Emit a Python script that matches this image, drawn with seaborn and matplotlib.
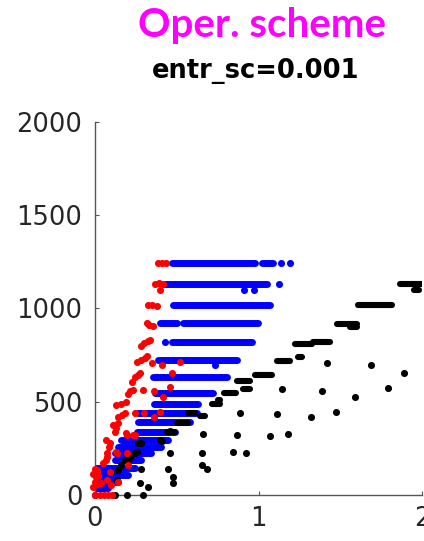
import matplotlib
matplotlib.use('Agg')

import seaborn as sns
import matplotlib.pyplot as plt

# blue series: dense horizontal bands (y level, first x, last x) plus loose points
blue_band_y = [1244, 1244, 1130, 1018, 921, 921, 821, 723, 634, 545, 487, 439, 393, 339,
               295, 257, 225, 187, 145, 107, 70, 37]
blue_band_x0 = [0.47, 1.02, 0.43, 0.476, 0.397, 0.538, 0.47, 0.385, 0.354, 0.367, 0.36, 0.263,
                0.263, 0.257, 0.159, 0.14, 0.122, 0.122, 0.006, 0.006, 0.006, 0.0]
blue_band_x1 = [0.977, 1.087, 1.051, 1.069, 0.501, 0.996, 0.959, 0.867, 0.806, 0.721, 0.629,
                0.623, 0.58, 0.489, 0.446, 0.403, 0.342, 0.281, 0.244, 0.202, 0.14, 0.079]
blue_pts_x = [1.136, 1.191, 1.124, 0.91, 0.971, 0.428, 0.733, 0.0]
blue_pts_y = [1244, 1244, 1130, 1098, 1098, 821, 696, 0]

# black series: step plateaus plus scattered points
black_step_y = [1130, 1098, 1018, 918, 900, 820, 809, 739, 720, 643, 612, 568, 546, 509, 487,
                425, 439, 386, 339]
black_step_x0 = [1.863, 1.95, 1.607, 1.478, 1.56, 1.332, 1.222, 1.24, 1.112, 0.977, 0.867,
                 0.904, 0.79, 0.752, 0.715, 0.641, 0.568, 0.5, 0.44]
black_step_x1 = [2.02, 1.98, 1.814, 1.6, 1.6, 1.436, 1.326, 1.265, 1.19, 1.081, 0.947, 0.947,
                 0.861, 0.764, 0.764, 0.672, 0.611, 0.568, 0.489]
black_x = [1.415, 1.684, 1.888, 1.14, 1.385, 1.588, 1.788, 0.886, 1.114, 1.318, 1.47, 0.662,
           0.866, 1.069, 1.181, 0.652, 0.845, 0.921, 0.652, 0.686, 0.458, 0.279, 0.448, 0.275,
           0.326, 0.475, 0.475, 0.122, 0.197, 0.291,
           0.098, 0.134, 0.14, 0.159, 0.183, 0.202, 0.214, 0.244, 0.257, 0.263, 0.28, 0.397,
           0.41, 0.458]
black_y = [705, 698, 652, 566, 559, 527, 573, 438, 434, 416, 443, 325, 320, 318, 327, 223, 232,
           227, 161, 139, 227, 138, 138, 63, 44, 98, 66, 0, 0, 0,
           123, 80, 134, 161, 187, 187, 204, 225, 230, 279, 279, 295, 290, 343]

# red series
red_x = [0.385, 0.41, 0.434, 0.367, 0.39, 0.415, 0.397, 0.324, 0.35, 0.38, 0.318, 0.33, 0.355,
         0.28, 0.3, 0.325, 0.336, 0.257, 0.28, 0.305, 0.318, 0.348, 0.409, 0.519,
         0.244, 0.26, 0.275, 0.226, 0.47, 0.2, 0.215, 0.235, 0.293, 0.36, 0.415, 0.458,
         0.13, 0.16, 0.19, 0.14, 0.165, 0.183, 0.244, 0.3, 0.397, 0.36,
         0.122, 0.13, 0.14, 0.195, 0.244, 0.11, 0.19, 0.232,
         0.075, 0.085, 0.09, 0.134, 0.195, 0.05, 0.065, 0.075, 0.067,
         -0.015, 0.0, 0.005, 0.01, 0.0, 0.015, 0.02, -0.01, 0.015,
         0.092, 0.073, 0.14, 0.098, 0.037, 0.128, 0.202,
         0.0, 0.031, 0.055, 0.08, 0.104]
red_y = [1244, 1244, 1244, 1130, 1135, 1130, 1098, 1018, 1020, 1015, 921, 910, 905,
         800, 815, 825, 830, 710, 725, 735, 745, 707, 696, 712,
         632, 645, 655, 605, 654, 540, 555, 565, 562, 557, 525, 579,
         480, 490, 500, 420, 430, 440, 439, 439, 445, 418,
         335, 360, 385, 321, 321, 375, 332, 321,
         225, 255, 279, 225, 225, 171, 190, 204, 295,
         45, 70, 95, 120, 140, 60, 100, 110, 135,
         123, 80, 70, 54, 64, 230, 161,
         0, 0, 0, 0, 0]

plt.rcParams['font.family'] = ['DejaVu Sans']
fig = plt.figure(figsize=(4.24, 5.41), dpi=100)
ax = fig.add_axes([0.224, 0.085, 0.772, 0.690])

dot = 26
ax.hlines(blue_band_y, blue_band_x0, blue_band_x1, colors='#0000ff', linewidth=5.0,
          capstyle='round', zorder=2)
sns.scatterplot(x=blue_pts_x, y=blue_pts_y, color='#0000ff', s=dot, linewidth=0, ax=ax,
                clip_on=False, zorder=2)
ax.hlines(black_step_y, black_step_x0, black_step_x1, colors='black', linewidth=4.4,
          capstyle='round', zorder=3)
sns.scatterplot(x=black_x, y=black_y, color='black', s=dot, linewidth=0, ax=ax,
                clip_on=False, zorder=3)
sns.scatterplot(x=red_x, y=red_y, color='#ff0000', s=dot, linewidth=0, ax=ax,
                clip_on=False, zorder=4)

ax.set_xlim(0, 2)
ax.set_ylim(0, 2000)
ax.set_xticks([0, 1, 2])
ax.set_yticks([0, 500, 1000, 1500, 2000])
ax.set_xlabel('')
ax.set_ylabel('')
for side in ['top', 'right']:
    ax.spines[side].set_visible(False)
for side in ['left', 'bottom']:
    ax.spines[side].set_color('#555555')
    ax.spines[side].set_linewidth(1.0)
ax.tick_params(direction='in', length=3, width=0.8, color='#555555',
               labelsize=18.5, labelcolor='#262626')
ax.tick_params(axis='x', pad=8)
ax.tick_params(axis='y', pad=9)

fig.text(0.618, 0.932, 'Oper. scheme', color='#ff00ff', fontsize=29, fontweight='bold',
         family=['Lato', 'DejaVu Sans'], ha='center', va='baseline')
fig.text(0.604, 0.856, 'entr_sc=0.001', color='black', fontsize=18.5, fontweight='bold',
         ha='center', va='baseline')

fig.savefig('out.png', dpi=100)
